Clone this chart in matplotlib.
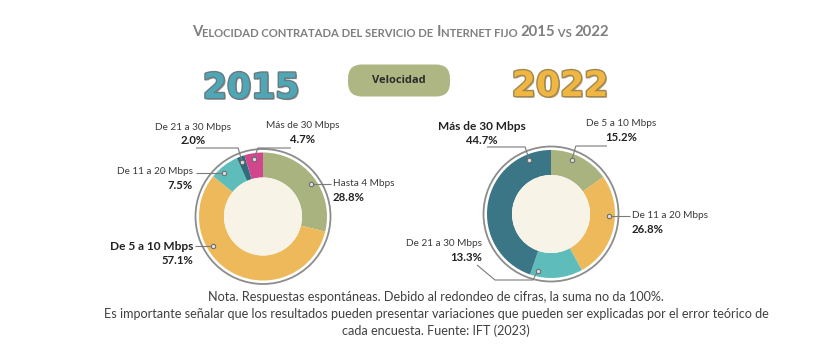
import matplotlib
matplotlib.use("Agg")
import matplotlib.pyplot as plt
import matplotlib.patheffects as pe
from matplotlib.patches import Circle, FancyBboxPatch
import numpy as np

# ---------------- data ----------------
cats_2015 = ["Hasta 4 Mbps", "De 5 a 10 Mbps", "De 11 a 20 Mbps", "De 21 a 30 Mbps", "Más de 30 Mbps"]
vals_2015 = [28.8, 57.1, 7.5, 2.0, 4.7]
cats_2022 = ["De 5 a 10 Mbps", "De 11 a 20 Mbps", "De 21 a 30 Mbps", "Más de 30 Mbps"]
vals_2022 = [15.2, 26.8, 13.3, 44.7]
years = ["2015", "2022"]

title_parts = [("V", True), ("ELOCIDAD CONTRATADA DEL SERVICIO DE ", False), ("I", True),
               ("NTERNET FIJO ", False), ("2015", True), (" VS ", False), ("2022", True)]
note_lines = ["Nota. Respuestas espontáneas. Debido al redondeo de cifras, la suma no da 100%.",
              "Es importante señalar que los resultados pueden presentar variaciones que pueden ser explicadas por el error teórico de",
              "cada encuesta. Fuente: IFT (2023)"]

GREEN = "#A9B37F"
ORANGE = "#EDB95B"
TEAL = "#5EBDBB"
DTEAL15 = "#2F6D7D"
DTEAL22 = "#3A7686"
MAGENTA = "#D1478E"
CREAM = "#F7F3E7"
colors_2015 = [GREEN, ORANGE, TEAL, DTEAL15, MAGENTA]
colors_2022 = [GREEN, ORANGE, TEAL, DTEAL22]

W, H = 832, 354
fig = plt.figure(figsize=(W / 100, H / 100), dpi=100)
fig.patch.set_facecolor("white")
ax = fig.add_axes([0, 0, 1, 1])

R = 64
R_IN = 39
c15 = (263, 216.5)
c22 = (551, 214)

def donut(center, vals, cols):
    ax.pie(vals, colors=cols, radius=R, center=center, startangle=-90, counterclock=True,
           wedgeprops=dict(width=R - R_IN, linewidth=0), normalize=True)
    ax.add_patch(Circle(center, R_IN, facecolor=CREAM, edgecolor="none", zorder=3))
    ax.add_patch(Circle(center, R + 3.5, facecolor="none", edgecolor="#8C8C8C", lw=1.3, zorder=1))

donut(c15, vals_2015, colors_2015)
donut(c22, vals_2022, colors_2022)

ax.set_xlim(0, W)
ax.set_ylim(H, 0)
ax.set_aspect("equal")
ax.axis("off")

LBL = "Lato"
LC = "#3a3a3a"

def dot(center, ang, r=0.91 * R):
    a = np.deg2rad(ang)
    return (center[0] + r * np.cos(a), center[1] - r * np.sin(a))

def leader(pts, d):
    xs = [p[0] for p in pts] + [d[0]]
    ys = [p[1] for p in pts] + [d[1]]
    ax.plot(xs, ys, color="#7a7a7a", lw=0.8, zorder=4, solid_capstyle="butt")
    ax.plot([d[0]], [d[1]], marker="o", ms=3.2, mfc="#dddddd", mec="#666666", mew=0.7, zorder=5)

def label(x, y, name, val, ha, big=False):
    ax.text(x, y, name, ha=ha, va="center", fontsize=8.6 if big else 7.2,
            fontweight="bold" if big else "normal", color="#222222" if big else LC, family=LBL)
    ax.text(x, y + 13.5, f"{val:.1f}%", ha=ha, va="center", fontsize=8.2,
            fontweight="bold", color="#222222", family=LBL)

# 2015 labels
d = dot(c15, 34); leader([(331, d[1])], d)
label(333, 184, cats_2015[0], vals_2015[0], "left")
d = dot(c15, 211); leader([(195, d[1])], d)
label(193, 247, cats_2015[1], vals_2015[1], "right", big=True)
d = dot(c15, 132); leader([(196, d[1])], d)
label(193, 172, cats_2015[2], vals_2015[2], "right")
d = dot(c15, 111); leader([(196, 148), (d[0] - 4, 148)], d)
label(193, 127, cats_2015[3], vals_2015[3], "center")
d = dot(c15, 99); leader([(291, 148), (d[0] + 4, 148)], d)
label(303, 126, cats_2015[4], vals_2015[4], "center")

# 2022 labels
d = dot(c22, 69); leader([(607, 146), (d[0] + 4, 146)], d)
label(621, 124, cats_2022[0], vals_2022[0], "center")
d = dot(c22, -2); leader([(630, d[1])], d)
label(632, 216, cats_2022[1], vals_2022[1], "left")
d = dot(c22, 257); leader([(477, 265), (495, 280), (d[0] - 5, 280)], d)
label(482, 244, cats_2022[2], vals_2022[2], "right")
d = dot(c22, 112); leader([(487, 147), (d[0] - 4, 147)], d)
label(481.5, 127, cats_2022[3], vals_2022[3], "center", big=True)

# Year headings
ax.text(251, 88, years[0], ha="center", va="center", fontsize=25, fontweight="bold",
        color="#4FA6B5", family="DejaVu Sans",
        path_effects=[pe.withSimplePatchShadow(offset=(1.2, -1.2), shadow_rgbFace="#555555", alpha=0.6),
                      pe.Stroke(linewidth=2.0, foreground="#6a7a7f"), pe.Normal()])
ax.text(560, 86, years[1], ha="center", va="center", fontsize=25, fontweight="bold",
        color="#F0B642", family="DejaVu Sans",
        path_effects=[pe.withSimplePatchShadow(offset=(1.2, -1.2), shadow_rgbFace="#8a6a2a", alpha=0.6),
                      pe.Stroke(linewidth=2.0, foreground="#a08650"), pe.Normal()])

# Velocidad button
ax.add_patch(FancyBboxPatch((348, 64.5), 102, 32, boxstyle="round,pad=0,rounding_size=14",
                            facecolor="#AEB684", edgecolor="none", zorder=2))
ax.text(399, 80.5, "Velocidad", ha="center", va="center", fontsize=8, fontweight="bold",
        color="#2b2b2b", family="Open Sans", zorder=3)

# Title with small caps
prev = None
for txt, big in title_parts:
    kw = dict(fontsize=10.7 if big else 8.1, fontweight="bold", color="#7F7F7F", family="Lato")
    if prev is None:
        prev = ax.text(192, 36, txt, ha="left", va="baseline", **kw)
    else:
        prev = ax.annotate(txt, xy=(1, 0), xycoords=prev, ha="left", va="bottom",
                           annotation_clip=False, **kw)

# Footnote
for i, line in enumerate(note_lines):
    ax.text(436, 297 + i * 17, line, ha="center", va="center", fontsize=9.1,
            color="#404040", family="Lato")

fig.savefig("out.png", dpi=100, facecolor="white")
